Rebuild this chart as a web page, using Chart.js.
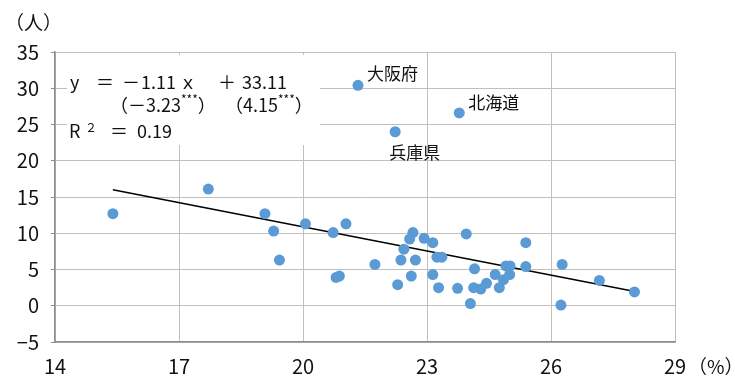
<!DOCTYPE html>
<html>
<head>
<meta charset="utf-8">
<script src="https://cdn.jsdelivr.net/npm/chart.js@4.4.1/dist/chart.umd.min.js"></script>
<style>
  html, body { margin: 0; padding: 0; background: #ffffff; }
  #wrap { width: 735px; height: 379px; position: relative; }
</style>
</head>
<body>
<div id="wrap"><canvas id="c" width="735" height="379"></canvas></div>
<script>
// 横軸：比率（%）、縦軸：人数（人）
const shareX = [
  15.40, 17.71, 19.08, 19.29, 19.43, 20.06, 20.73, 21.04, 20.80, 20.88,
  21.74, 22.29, 22.37, 22.44, 22.58, 22.66, 22.62, 22.72, 22.93, 23.14,
  23.14, 23.24, 23.36, 23.28, 23.74, 23.95, 24.05, 24.15, 24.13, 24.30,
  24.44, 24.65, 24.75, 24.85, 24.91, 25.01, 25.00, 25.39, 25.39, 26.27,
  26.24, 27.17, 28.02
];
const valueY = [
  12.7, 16.1, 12.7, 10.3, 6.3, 11.3, 10.1, 11.3, 3.9, 4.1,
  5.7, 2.9, 6.3, 7.8, 9.2, 10.1, 4.1, 6.3, 9.3, 8.7,
  4.3, 6.7, 6.7, 2.5, 2.4, 9.9, 0.3, 5.1, 2.5, 2.3,
  3.1, 4.3, 2.5, 3.6, 5.5, 5.5, 4.3, 8.7, 5.4, 5.7,
  0.1, 3.5, 1.9
];

// 名前を表示する府県
const namedPrefs = ['大阪府', '北海道', '兵庫県'];
const namedX = [21.33, 23.78, 22.23];
const namedY = [30.4, 26.6, 24.0];

// 回帰直線の両端
const trendX = [15.4, 28.0];
const trendY = [16.0, 2.0];

// 軸の目盛り
const xTicks = [14, 17, 20, 23, 26, 29];
const yTicks = [-5, 0, 5, 10, 15, 20, 25, 30, 35];

const FONT = '"Noto Sans CJK JP", "Noto Sans", sans-serif';
const TEXT = '#111111';
const BLUE = '#5b9bd5';

const points = shareX.map((x, i) => ({ x, y: valueY[i] }))
  .concat(namedX.map((x, i) => ({ x, y: namedY[i] })));
const trend = trendX.map((x, i) => ({ x, y: trendY[i] }));

function put(ctx, s, x, y, size) {
  ctx.font = size + 'px ' + FONT;
  ctx.fillText(s, x, y);
  return x + ctx.measureText(s).width;
}

const annotate = {
  id: 'annotate',
  beforeDatasetsDraw(chart) {
    const ctx = chart.ctx;
    ctx.save();
    // 回帰式の白い背景
    ctx.fillStyle = '#ffffff';
    ctx.fillRect(67, 55, 253, 90);
    ctx.fillStyle = TEXT;
    ctx.textAlign = 'left';
    ctx.textBaseline = 'middle';
    // 1行目
    put(ctx, 'y', 70, 82, 18);
    put(ctx, '＝', 96, 82, 18);
    let x = put(ctx, '－', 122, 82, 18);
    x = put(ctx, '1.11', x + 1, 82, 18);
    put(ctx, 'ｘ', x + 3, 82, 18);
    put(ctx, '＋', 218, 82, 18);
    put(ctx, '33.11', 242, 82, 18);
    // 2行目（t値）
    x = put(ctx, '（－3.23', 110, 105, 18);
    x = put(ctx, '***', x, 99, 12);
    put(ctx, '）', x, 105, 18);
    x = put(ctx, '（4.15', 225, 105, 18);
    x = put(ctx, '***', x, 99, 12);
    put(ctx, '）', x, 105, 18);
    // 3行目
    put(ctx, 'R', 69, 131, 18);
    put(ctx, '２', 85, 127, 12);
    put(ctx, '＝', 110, 131, 18);
    put(ctx, '0.19', 137, 131, 18);
    ctx.restore();
  },
  afterDatasetsDraw(chart) {
    const ctx = chart.ctx;
    const xs = chart.scales.x, ys = chart.scales.y;
    const place = { '大阪府': [9, -12, 'left'], '北海道': [9, -10, 'left'], '兵庫県': [-6, 21, 'left'] };
    ctx.save();
    ctx.fillStyle = TEXT;
    ctx.font = '17px ' + FONT;
    ctx.textBaseline = 'middle';
    namedPrefs.forEach((name, i) => {
      const px = xs.getPixelForValue(namedX[i]);
      const py = ys.getPixelForValue(namedY[i]);
      const p = place[name];
      ctx.textAlign = p[2];
      ctx.fillText(name, px + p[0], py + p[1]);
    });
    // 単位
    ctx.font = '19px ' + FONT;
    ctx.textAlign = 'left';
    ctx.fillText('（人）', 5, 23);
    ctx.fillText('（%）', xs.right + 13, 367);
    ctx.restore();
  }
};

new Chart(document.getElementById('c'), {
  type: 'scatter',
  data: {
    datasets: [
      {
        type: 'line',
        data: trend,
        borderColor: '#000000',
        borderWidth: 1.4,
        pointRadius: 0,
        fill: false,
        order: 2
      },
      {
        data: points,
        backgroundColor: BLUE,
        borderColor: BLUE,
        borderWidth: 0,
        pointRadius: 5.5,
        order: 1
      }
    ]
  },
  options: {
    responsive: false,
    animation: false,
    devicePixelRatio: 1,
    layout: { padding: { top: 52, right: 60, left: 0, bottom: 0 } },
    plugins: { legend: { display: false }, tooltip: { enabled: false } },
    scales: {
      x: {
        type: 'linear',
        min: xTicks[0],
        max: xTicks[xTicks.length - 1],
        afterBuildTicks(s) { s.ticks = xTicks.map(v => ({ value: v })); },
        afterFit(s) { s.height = 37; },
        ticks: { color: TEXT, font: { size: 20, family: FONT }, padding: 12, maxRotation: 0 },
        grid: { color: '#bfbfbf', lineWidth: 1, drawTicks: false },
        border: { color: '#8c8c8c', width: 1.5 }
      },
      y: {
        min: yTicks[0],
        max: yTicks[yTicks.length - 1],
        afterBuildTicks(s) { s.ticks = yTicks.map(v => ({ value: v })); },
        afterFit(s) { s.width = 55; },
        ticks: {
          color: TEXT,
          font: { size: 20, family: FONT },
          padding: 12,
          callback: v => (v < 0 ? '−' + Math.abs(v) : String(v))
        },
        grid: { color: '#bfbfbf', lineWidth: 1, tickLength: 4, tickColor: '#8c8c8c' },
        border: { color: '#8c8c8c', width: 1.5 }
      }
    }
  },
  plugins: [annotate]
});
</script>
</body>
</html>
